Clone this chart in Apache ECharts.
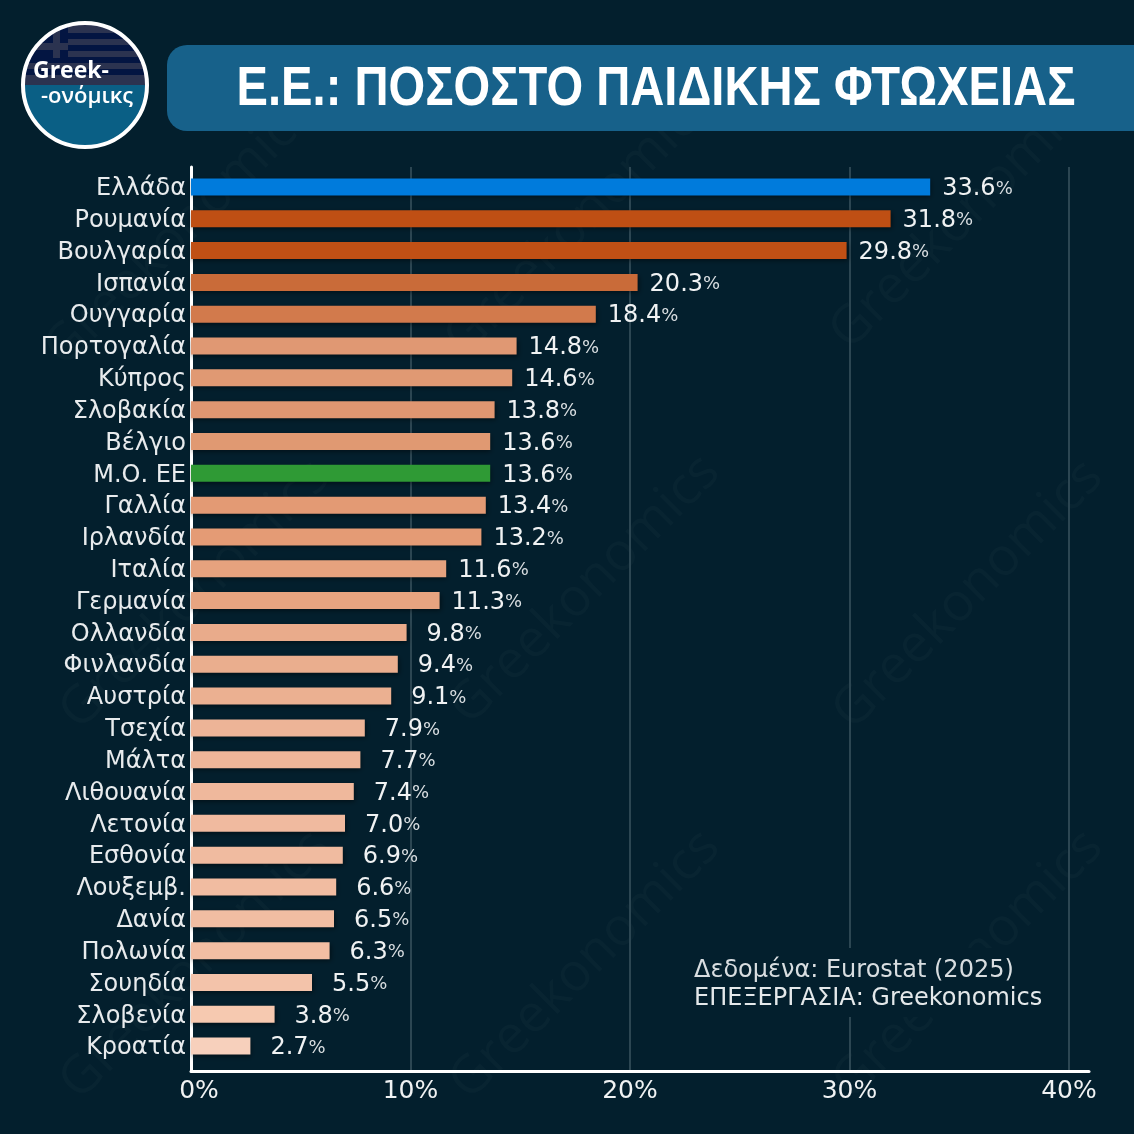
<!DOCTYPE html>
<html>
<head>
<meta charset="utf-8">
<style>html,body{margin:0;padding:0;background:#031f2d}#main{width:1134px;height:1134px}</style>
<script src="https://cdn.jsdelivr.net/npm/echarts@6/dist/echarts.min.js"></script>
</head>
<body>
<div id="main"></div>
<script>
var countries = ['Ελλάδα','Ρουμανία','Βουλγαρία','Ισπανία','Ουγγαρία','Πορτογαλία','Κύπρος','Σλοβακία','Βέλγιο','Μ.Ο. ΕΕ','Γαλλία','Ιρλανδία','Ιταλία','Γερμανία','Ολλανδία','Φινλανδία','Αυστρία','Τσεχία','Μάλτα','Λιθουανία','Λετονία','Εσθονία','Λουξεμβ.','Δανία','Πολωνία','Σουηδία','Σλοβενία','Κροατία'];
var poverty = [33.6,31.8,29.8,20.3,18.4,14.8,14.6,13.8,13.6,13.6,13.4,13.2,11.6,11.3,9.8,9.4,9.1,7.9,7.7,7.4,7.0,6.9,6.6,6.5,6.3,5.5,3.8,2.7];
var barColors = ['#007bdc','#bf4f14','#c05015','#c96b39','#d27a4c','#e09873','#e09973','#df9671','#e09972','#2f9a35','#e39a74','#e49b75','#e6a27e','#e7a480','#e9ab8b','#eaae8e','#ebb091','#edb497','#eeb699','#efb89c','#f0ba9f','#f0bba0','#f1bca1','#f1bda2','#f2bea3','#f3c3aa','#f6c9b0','#f7d0bc'];
var xTicks = [0,10,20,30,40];

var BG = '#031f2d';
// gridlines sit a touch tighter than the bars in the original
var xMax = 898 / 21.95, barMax = 898 / 22;

var chart = echarts.init(document.getElementById('main'), null, {renderer: 'canvas'});

// faint diagonal watermarks
var marks = [];
[[180,232],[580,222],[965,215],[195,595],[585,590],[968,595],[195,965],[585,965],[968,965]].forEach(function (p) {
  marks.push({
    type: 'text', x: p[0], y: p[1], rotation: Math.PI / 4, z: -10, silent: true,
    style: {text: 'Greekonomics', font: '53px "Open Sans"', fill: 'rgba(255,255,255,0.022)', align: 'center', verticalAlign: 'middle'}
  });
});

// stripes of the flag in the logo
var stripeStops = [];
var stripeEdges = [0,0.14,0.24,0.34,0.44,0.54,0.64,0.74,0.84,1];
for (var i = 0; i < 9; i++) {
  var c = i % 2 ? '#031542' : '#2b3350';
  stripeStops.push({offset: stripeEdges[i], color: c}, {offset: stripeEdges[i + 1], color: c});
}

var graphics = marks.concat([
  {type: 'rect', shape: {x: 167, y: 45, width: 1000, height: 86, r: 20}, style: {fill: '#17618a'}},
  {type: 'text', x: 656, y: 90, scaleX: 0.842, style: {text: 'Ε.Ε.: ΠΟΣΟΣΤΟ ΠΑΙΔΙΚΗΣ ΦΤΩΧΕΙΑΣ', font: 'bold 56px "Liberation Sans"', fill: '#ffffff', align: 'center', verticalAlign: 'middle', shadowBlur: 5, shadowColor: 'rgba(0,0,0,0.7)', shadowOffsetX: 2, shadowOffsetY: 3}},
  // logo
  {type: 'sector', shape: {cx: 85, cy: 85, r: 61, startAngle: Math.PI, endAngle: 2 * Math.PI}, style: {fill: new echarts.graphic.LinearGradient(0, 0, 0, 1, stripeStops)}},
  {type: 'polygon', shape: {points: [[68,58],[68,26.4],[60,29.4],[50,35],[40,44],[32,55],[30.3,58]]}, style: {fill: '#031542'}},
  {type: 'polygon', shape: {points: [[53,33],[60,29.4],[60,58],[53,58]]}, style: {fill: '#2b3350'}},
  {type: 'polygon', shape: {points: [[41,43],[68,43],[68,50],[35,50]]}, style: {fill: '#2b3350'}},
  {type: 'sector', shape: {cx: 85, cy: 85, r: 61, startAngle: 0, endAngle: Math.PI}, style: {fill: '#0a5f85'}},
  {type: 'circle', shape: {cx: 85, cy: 85, r: 62}, style: {fill: 'none', stroke: '#ffffff', lineWidth: 4}},
  {type: 'text', x: 33, y: 71, style: {text: 'Greek-', font: 'bold 23px "Open Sans"', fill: '#ffffff', verticalAlign: 'middle'}},
  {type: 'text', x: 41, y: 97, style: {text: '-ονόμικς', font: '600 22px "Open Sans"', fill: '#ffffff', verticalAlign: 'middle'}},
  // source note, covers the gridline behind it
  {type: 'rect', z: 5, shape: {x: 684, y: 948, width: 370, height: 69}, style: {fill: BG}},
  {type: 'text', z: 6, x: 694, y: 971, style: {text: 'Δεδομένα: Eurostat (2025)', font: '24px "DejaVu Sans"', fill: '#d8dde0', verticalAlign: 'middle'}},
  {type: 'text', z: 6, x: 694, y: 999, style: {text: 'ΕΠΕΞΕΡΓΑΣΙΑ: Greekonomics', font: '24px "DejaVu Sans"', fill: '#e4e8ea', verticalAlign: 'middle'}}
]);

var option = {
  backgroundColor: BG,
  animation: false,
  grid: [
    {left: 191, top: 167, width: 898, height: 904},
    {left: 191, top: 171, width: 898, height: 891}
  ],
  xAxis: [
    {gridIndex: 0, type: 'value', min: 0, max: xMax, interval: 10,
     axisLine: {show: true, onZero: false, lineStyle: {color: '#ffffff', width: 3}},
     axisTick: {show: false},
     splitLine: {show: true, showMinLine: false, showMaxLine: false, lineStyle: {color: '#2c4652', width: 2}},
     axisLabel: {color: '#f0f2f3', fontFamily: 'DejaVu Sans', fontSize: 25, margin: 8,
       customValues: xTicks,
       formatter: function (v) { return v === 0 ? '{z|0%}' : v + '%'; },
       rich: {z: {color: '#f0f2f3', fontFamily: 'DejaVu Sans', fontSize: 25, padding: [0, 0, 0, 16]}}}},
    {gridIndex: 1, type: 'value', min: 0, max: barMax, show: false}
  ],
  yAxis: [
    {gridIndex: 0, type: 'category', data: [''],
     axisLine: {show: true, lineStyle: {color: '#ffffff', width: 3}},
     axisTick: {show: false}, axisLabel: {show: false}},
    {gridIndex: 1, type: 'category', data: countries, inverse: true,
     axisLine: {show: false}, axisTick: {show: false},
     axisLabel: {margin: 5, interval: 0,
       formatter: function (v) { return '{c|' + v + '}'; },
       rich: {c: {color: '#e8ebed', fontFamily: 'DejaVu Sans', fontSize: 24, padding: [4, 0, 0, 0]}}}}
  ],
  series: [{
    type: 'bar', xAxisIndex: 1, yAxisIndex: 1, barWidth: 17,
    data: poverty.map(function (v, i) {
      return {
        value: v,
        itemStyle: {color: barColors[i], shadowBlur: 5, shadowColor: 'rgba(0,0,0,0.5)', shadowOffsetX: 1, shadowOffsetY: 2},
        label: {distance: v < 10 ? 20 : 12}
      };
    }),
    label: {show: true, position: 'right', offset: [0, 2],
      formatter: function (p) { return '{n|' + p.value.toFixed(1) + '}{p|%}'; },
      rich: {
        n: {color: '#f0f2f3', fontFamily: 'DejaVu Sans', fontSize: 24},
        p: {color: '#d8dde0', fontFamily: 'DejaVu Sans', fontSize: 18}
      }}
  }],
  graphic: graphics
};
chart.setOption(option);
</script>
</body>
</html>
